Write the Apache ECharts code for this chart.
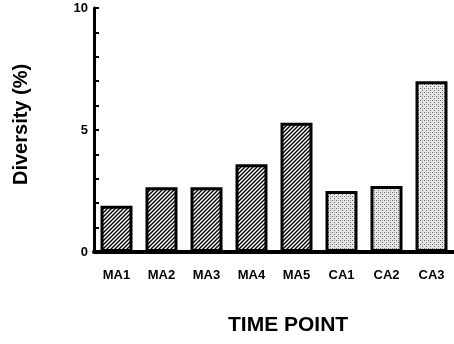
<!DOCTYPE html>
<html>
<head>
<meta charset="utf-8">
<style>
  html, body { margin: 0; padding: 0; background: #fff; }
  #chart { width: 454px; height: 344px; }
</style>
<script src="https://cdn.jsdelivr.net/npm/echarts@6/dist/echarts.min.js"></script>
</head>
<body>
<div id="chart"></div>
<script>
// Sequence diversity at each sampling time point
const categories = ['MA1', 'MA2', 'MA3', 'MA4', 'MA5', 'CA1', 'CA2', 'CA3'];
const diversity = [1.9, 2.65, 2.65, 3.6, 5.3, 2.5, 2.7, 7.0];
const groups = ['MA', 'MA', 'MA', 'MA', 'MA', 'CA', 'CA', 'CA'];
const yTickLabels = ['0', '5', '10'];

// Fill patterns: diagonal hatching for MA samples, stippling for CA samples
function hatchPattern() {
  const c = document.createElement('canvas');
  c.width = 4; c.height = 4;
  const g = c.getContext('2d');
  g.fillStyle = '#fff';
  g.fillRect(0, 0, 4, 4);
  g.strokeStyle = '#000';
  g.lineWidth = 1.4;
  g.beginPath();
  g.moveTo(-1, 5); g.lineTo(5, -1);
  g.moveTo(-1, 1); g.lineTo(1, -1);
  g.moveTo(3, 5); g.lineTo(5, 3);
  g.stroke();
  return c;
}
function stipplePattern() {
  const c = document.createElement('canvas');
  c.width = 4; c.height = 4;
  const g = c.getContext('2d');
  g.fillStyle = '#e6e6e6';
  g.fillRect(0, 0, 4, 4);
  g.fillStyle = 'rgba(0,0,0,0.55)';
  g.fillRect(0, 0, 1, 1);
  g.fillRect(2, 2, 1, 1);
  g.fillStyle = 'rgba(0,0,0,0.25)';
  g.fillRect(2, 0, 1, 1);
  return c;
}
const fills = {
  MA: { image: hatchPattern(), repeat: 'repeat' },
  CA: { image: stipplePattern(), repeat: 'repeat' }
};

const chart = echarts.init(document.getElementById('chart'), null, { renderer: 'canvas' });
chart.setOption({
  animation: false,
  backgroundColor: '#fff',
  grid: { left: 94, top: 8, width: 364, height: 244 },
  xAxis: {
    type: 'category',
    data: categories,
    boundaryGap: true,
    axisLine: { lineStyle: { color: '#000', width: 4 } },
    axisTick: { inside: true, length: 5, lineStyle: { color: '#000', width: 3 } },
    axisLabel: {
      color: '#000', fontFamily: 'Liberation Sans', fontWeight: 'bold',
      fontSize: 13, margin: 17
    }
  },
  yAxis: {
    type: 'value',
    min: 0, max: 10, interval: 1,
    splitLine: { show: false },
    axisLine: { show: true, lineStyle: { color: '#000', width: 3 } },
    axisTick: { show: true, inside: true, length: 5, lineStyle: { color: '#000', width: 2 } },
    axisLabel: {
      color: '#000', fontFamily: 'Liberation Sans', fontWeight: 'bold',
      fontSize: 13, margin: 6,
      formatter: v => yTickLabels.includes(String(v)) ? String(v) : ''
    }
  },
  series: [{
    type: 'bar',
    barWidth: 32,
    data: diversity.map((v, i) => ({
      value: v,
      itemStyle: { color: fills[groups[i]] }
    })),
    itemStyle: { borderColor: '#000', borderWidth: 3 }
  }],
  graphic: [
    {
      type: 'text', left: 228, top: 315,
      style: {
        text: 'TIME POINT', fill: '#000',
        font: 'bold 21px "Liberation Sans"'
      }
    },
    {
      type: 'text', x: 11, y: 185, rotation: Math.PI / 2,
      style: {
        text: 'Diversity (%)', fill: '#000',
        font: 'bold 20px "Liberation Sans"',
        textAlign: 'left', textVerticalAlign: 'top'
      }
    }
  ]
});
</script>
</body>
</html>
